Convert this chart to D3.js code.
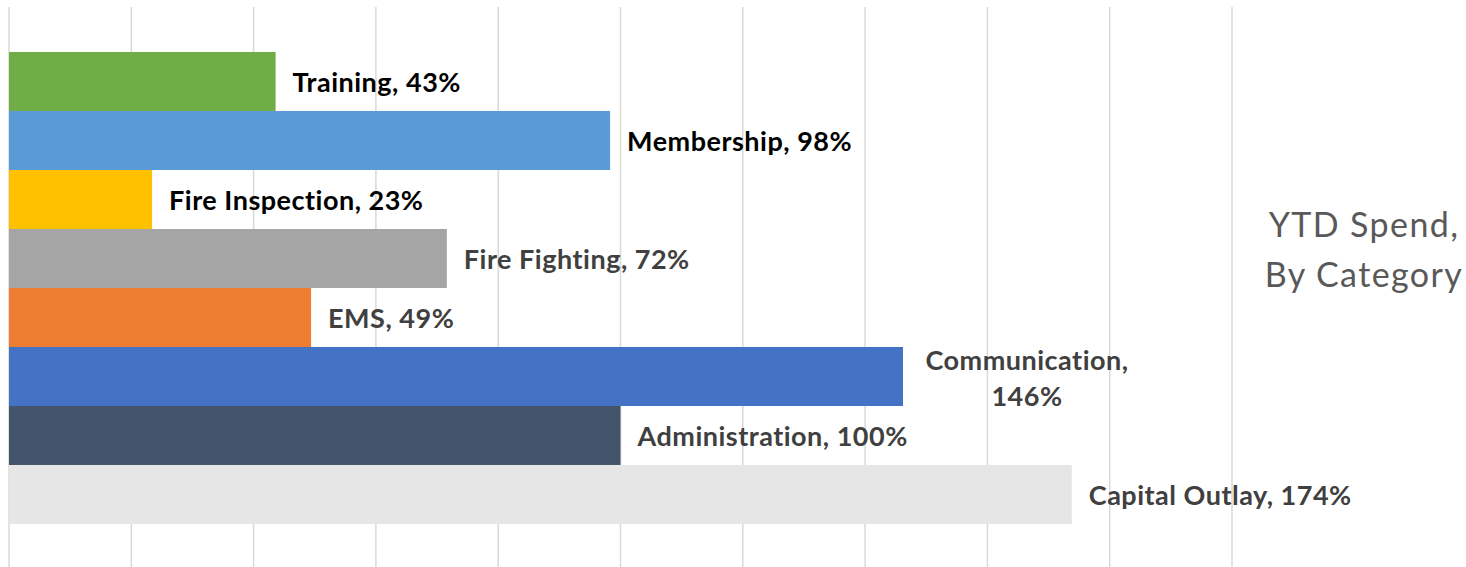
<!DOCTYPE html>
<html lang="en">
<head>
  <meta charset="UTF-8">
  <title>YTD Spend, By Category</title>
  <script src="https://d3js.org/d3.v7.min.js"></script>
  <style>
    body { margin: 0; background: white; }
    svg { display: block; }
    .label { font-family: Lato, 'Open Sans', sans-serif; font-weight: bold; font-size: 27px; letter-spacing: 0.5px; }
    .title { font-family: Lato, 'Open Sans', sans-serif; font-size: 34px; letter-spacing: 1.4px; fill: #595959; }
  </style>
</head>
<body>
  <svg id="chart" width="1466" height="567"></svg>
  <script>
    var categories = ["Training", "Membership", "Fire Inspection", "Fire Fighting", "EMS", "Communication", "Administration", "Capital Outlay"];
    // bar lengths (labels show rounded values)
    var values = [43.6, 98.3, 23.4, 71.6, 49.4, 146.2, 100, 173.8];
    var pctLabels = ["43%", "98%", "23%", "72%", "49%", "146%", "100%", "174%"];
    var colors = ["#70AD47", "#5B9BD5", "#FFC000", "#A5A5A5", "#ED7D31", "#4472C4", "#44546A", "#E7E6E6"];
    var labelColors = ["#000", "#000", "#000", "#404040", "#404040", "#404040", "#404040", "#404040"];
    var gridTicks = [0, 20, 40, 60, 80, 100, 120, 140, 160, 180, 200];

    var svg = d3.select("#chart");
    var x = d3.scaleLinear().domain([0, 200]).range([9, 1232]);
    var y = d3.scaleBand().domain(categories).range([7, 569]).paddingInner(0).paddingOuter(0.763);

    // vertical gridlines
    svg.append("g").selectAll("line")
      .data(gridTicks)
      .join("line")
      .attr("x1", d => x(d)).attr("x2", d => x(d))
      .attr("y1", 7).attr("y2", 569)
      .attr("stroke", "#d9d9d9")
      .attr("stroke-width", 1.5);

    svg.append("g").selectAll("rect")
      .data(categories)
      .join("rect")
      .attr("x", x(0))
      .attr("y", d => y(d))
      .attr("width", (d, i) => x(values[i]) - x(0))
      .attr("height", y.bandwidth())
      .attr("fill", (d, i) => colors[i]);

    var labels = svg.append("g").selectAll("text")
      .data(categories)
      .join("text")
      .attr("class", "label")
      .attr("fill", (d, i) => labelColors[i])
      .attr("dominant-baseline", "central");

    labels.each(function(d, i) {
      var t = d3.select(this);
      var cy = y(d) + y.bandwidth() / 2;
      var lx = x(values[i]) + 17;
      if (d === "Communication") {
        // wrapped label, centered lines
        var cx = lx + 107;
        t.attr("text-anchor", "middle");
        t.append("tspan").attr("x", cx).attr("y", cy - 17).text(d + ",");
        t.append("tspan").attr("x", cx).attr("y", cy + 19).text(pctLabels[i]);
      } else {
        t.attr("x", lx).attr("y", cy).text(d + ", " + pctLabels[i]);
      }
    });

    var title = svg.append("text")
      .attr("class", "title")
      .attr("text-anchor", "middle");
    title.append("tspan").attr("x", 1364).attr("y", 237).text("YTD Spend,");
    title.append("tspan").attr("x", 1364).attr("y", 287).text("By Category");
  </script>
</body>
</html>
